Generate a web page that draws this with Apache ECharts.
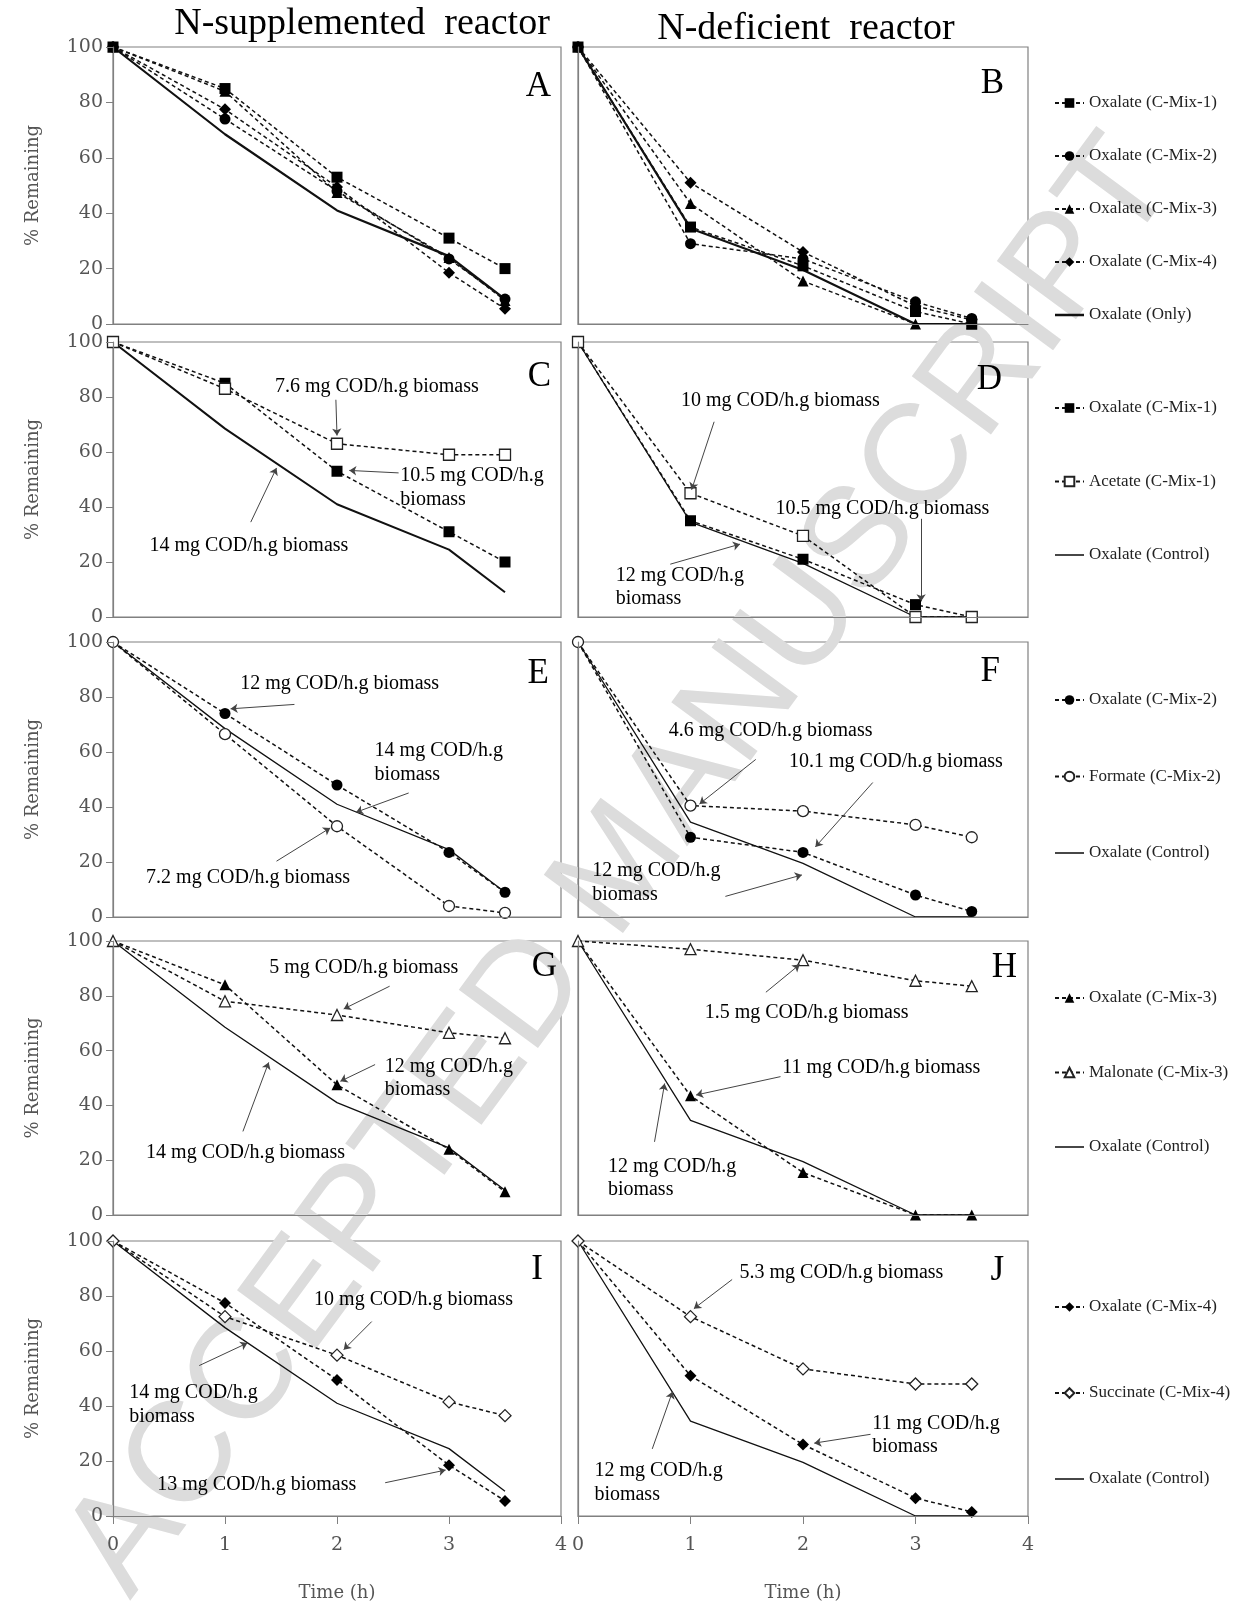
<!DOCTYPE html>
<html>
<head>
<meta charset="utf-8">
<script src="https://cdn.jsdelivr.net/npm/echarts@6.0.0/dist/echarts.min.js"></script>
<style>
html, body { margin: 0; padding: 0; background: #fff; }
#main { width: 1249px; height: 1611px; }
</style>
</head>
<body>
<div id="main"></div>
<script>
// sampling times (h)
var hours = [0, 1, 2, 3, 3.5];

// oxalate, N-supplemented reactor
var supMix1 = [100, 85, 53, 31, 20];
var supMix2 = [100, 74, 48, 23.5, 9];
var supMix3 = [100, 84, 47.5, 24, 8.5];
var supMix4 = [100, 77.5, 49.5, 18.5, 5.5];
var supCtrl = [100, 68.5, 41, 24.5, 9];

// oxalate, N-deficient reactor
var defMix1 = [100, 35, 21, 4.5, 0];
var defMix2 = [100, 29, 23.5, 8, 2];
var defMix3 = [100, 43.5, 15.5, 0, 0];
var defMix4 = [100, 51, 26, 6.5, 1.5];
var defCtrl = [100, 34.5, 19.5, 0, 0];

// co-substrates
var acetateSup = [100, 83, 63, 59, 59];
var acetateDef = [100, 45, 29.5, 0, 0];
var formateSup = [100, 66.5, 33, 4, 1.5];
var formateDef = [100, 40.5, 38.5, 33.5, 29];
var malonateSup = [100, 78, 73, 66.5, 64.5];
var malonateDef = [100, 97, 93, 85.5, 83.5];
var succinateSup = [100, 72.5, 58.5, 41.5, 36.5];
var succinateDef = [100, 72.5, 53.5, 48, 48];

var yTicks = [0, 20, 40, 60, 80, 100];
var xTicks = [0, 1, 2, 3, 4];

// annotations (text anchor and arrow, in axis units)
var notesC = [
    {text: '7.6 mg COD/h.g biomass', at: [1.45, 83.5], from: [1.99, 79], to: [2.0, 66]},
    {text: '10.5 mg COD/h.g\nbiomass', at: [2.57, 46.8], from: [2.55, 52.4], to: [2.11, 53.3]},
    {text: '14 mg COD/h.g biomass', at: [0.33, 25.7], from: [1.23, 34.5], to: [1.46, 54.2]}
];
var notesD = [
    {text: '10 mg COD/h.g biomass', at: [0.92, 78.4], from: [1.21, 71], to: [1.01, 46.3]},
    {text: '10.5 mg COD/h.g biomass', at: [1.76, 39.3], from: [3.05, 35.7], to: [3.05, 5.7]},
    {text: '12 mg COD/h.g\nbiomass', at: [0.34, 10.7], from: [0.82, 19.2], to: [1.44, 26.5]}
];
var notesE = [
    {text: '12 mg COD/h.g biomass', at: [1.14, 84.6], from: [1.62, 77.3], to: [1.05, 75.7]},
    {text: '14 mg COD/h.g\nbiomass', at: [2.34, 56], from: [2.64, 45.1], to: [2.17, 38.1]},
    {text: '7.2 mg COD/h.g biomass', at: [0.3, 14.2], from: [1.46, 20.3], to: [1.94, 32.4]}
];
var notesF = [
    {text: '4.6 mg COD/h.g biomass', at: [0.81, 67.5], from: [1.58, 57.3], to: [1.08, 41.1]},
    {text: '10.1 mg COD/h.g biomass', at: [1.88, 56.1], from: [2.62, 48.9], to: [2.11, 25.5]},
    {text: '12 mg COD/h.g\nbiomass', at: [0.13, 12.2], from: [1.31, 7.5], to: [1.99, 15.3]}
];
var notesG = [
    {text: '5 mg COD/h.g biomass', at: [1.40, 90.2], from: [2.47, 83.5], to: [2.06, 75.2]},
    {text: '12 mg COD/h.g\nbiomass', at: [2.43, 49.7], from: [2.34, 54.9], to: [2.03, 48.8]},
    {text: '14 mg COD/h.g biomass', at: [0.3, 22.6], from: [1.16, 30.5], to: [1.39, 55.7]}
];
var notesH = [
    {text: '1.5 mg COD/h.g biomass', at: [1.13, 73.7], from: [1.67, 81.3], to: [1.97, 91.4]},
    {text: '11 mg COD/h.g biomass', at: [1.82, 53.5], from: [1.80, 50.5], to: [1.05, 43.8]},
    {text: '12 mg COD/h.g\nbiomass', at: [0.27, 13.2], from: [0.68, 26.7], to: [0.77, 48]}
];
var notesI = [
    {text: '10 mg COD/h.g biomass', at: [1.8, 78.4], from: [2.31, 70.7], to: [2.06, 60.5]},
    {text: '14 mg COD/h.g\nbiomass', at: [0.15, 40.2], from: [0.77, 54.7], to: [1.2, 62.9]},
    {text: '13 mg COD/h.g biomass', at: [0.4, 11.1], from: [2.43, 12.1], to: [2.97, 16.7]}
];
var notesJ = [
    {text: '5.3 mg COD/h.g biomass', at: [1.44, 88.3], from: [1.37, 86], to: [1.03, 75.4]},
    {text: '11 mg COD/h.g\nbiomass', at: [2.62, 29.1], from: [2.6, 29.7], to: [2.1, 26.5]},
    {text: '12 mg COD/h.g\nbiomass', at: [0.15, 11.9], from: [0.66, 24.4], to: [0.84, 45.2]}
];

// layout
var cols = [{left: 113, width: 448}, {left: 578, width: 450}];
var rows = [
    {top: 47, height: 277}, {top: 342, height: 275}, {top: 642, height: 275},
    {top: 941, height: 274}, {top: 1241, height: 275}
];

var chart = echarts.init(document.getElementById('main'));

function pts(vals) {
    return hours.map(function (h, i) { return [h, vals[i]]; });
}

function dashed(name, vals, g, symbol, size, filled) {
    return {
        name: name, type: 'line', xAxisIndex: g, yAxisIndex: g,
        data: pts(vals), symbol: symbol, symbolSize: size, clip: false,
        lineStyle: {color: '#111', width: 1.5, type: [4, 3]},
        itemStyle: filled
            ? {color: '#000', borderColor: '#000', borderWidth: 0}
            : {color: '#fff', borderColor: '#222', borderWidth: 1.3},
        z: 3
    };
}

function control(name, vals, g, width, notes) {
    var s = {
        name: name, type: 'line', xAxisIndex: g, yAxisIndex: g,
        data: pts(vals), symbol: 'none', clip: false,
        lineStyle: {color: '#111', width: width, type: 'solid'},
        itemStyle: {color: '#111'},
        z: 2
    };
    if (notes) {
        s.markLine = {
            silent: true, symbol: ['none', 'arrow'], symbolSize: 7,
            label: {show: false},
            lineStyle: {color: '#444', width: 1, type: 'solid'},
            data: notes.map(function (n) { return [{coord: n.from}, {coord: n.to}]; })
        };
        s.markPoint = {
            silent: true, symbol: 'circle', symbolSize: 1,
            itemStyle: {color: 'rgba(0,0,0,0)'},
            data: notes.map(function (n) {
                return {
                    coord: n.at,
                    label: {
                        show: true, formatter: n.text, position: [0, 0],
                        align: 'left', verticalAlign: 'middle',
                        fontFamily: 'Liberation Serif', fontSize: 20,
                        lineHeight: 23.5, color: '#000'
                    }
                };
            })
        };
    }
    return s;
}

var axisFont = {fontFamily: 'DejaVu Serif', fontSize: 19, color: '#555'};

var grids = [], xAxes = [], yAxes = [];
rows.forEach(function (r, ri) {
    cols.forEach(function (c, ci) {
        var g = grids.length;
        var bottom = ri === rows.length - 1;
        grids.push({
            left: c.left, top: r.top, width: c.width, height: r.height,
            show: true, borderColor: '#808080', borderWidth: 1.2,
            containLabel: false, outerBoundsMode: 'none'
        });
        xAxes.push({
            type: 'value', gridIndex: g, z: 4, min: xTicks[0], max: xTicks[xTicks.length - 1], interval: 1,
            name: bottom ? 'Time (h)' : '', nameLocation: 'middle', nameGap: 68,
            nameTextStyle: {fontFamily: 'DejaVu Serif', fontSize: 18, color: '#555'},
            axisLine: {show: true, onZero: false, lineStyle: {color: '#808080', width: 1.2}},
            axisTick: {show: bottom, length: 8, lineStyle: {color: '#808080'}},
            axisLabel: Object.assign({show: bottom, margin: 20}, axisFont),
            splitLine: {show: false}
        });
        yAxes.push({
            type: 'value', gridIndex: g, z: 4, min: yTicks[0], max: yTicks[yTicks.length - 1], interval: 20,
            name: ci === 0 ? '% Remaining' : '', nameLocation: 'middle', nameGap: 71,
            nameTextStyle: {fontFamily: 'DejaVu Serif', fontSize: 18, color: '#555'},
            axisLine: {show: true, onZero: false, lineStyle: {color: '#808080', width: 1.2}},
            axisTick: {show: ci === 0, length: 7, lineStyle: {color: '#808080'}},
            axisLabel: Object.assign({show: ci === 0, margin: 10}, axisFont),
            splitLine: {show: false}
        });
    });
});

var series = [
    // A
    dashed('Oxalate (C-Mix-1)', supMix1, 0, 'rect', 11, true),
    dashed('Oxalate (C-Mix-2)', supMix2, 0, 'circle', 11, true),
    dashed('Oxalate (C-Mix-3)', supMix3, 0, 'triangle', 11, true),
    dashed('Oxalate (C-Mix-4)', supMix4, 0, 'diamond', 12, true),
    control('Oxalate (Only)', supCtrl, 0, 2.2),
    // B
    dashed('Oxalate (C-Mix-1)', defMix1, 1, 'rect', 11, true),
    dashed('Oxalate (C-Mix-2)', defMix2, 1, 'circle', 11, true),
    dashed('Oxalate (C-Mix-3)', defMix3, 1, 'triangle', 11, true),
    dashed('Oxalate (C-Mix-4)', defMix4, 1, 'diamond', 12, true),
    control('Oxalate (Only)', defCtrl, 1, 2.2),
    // C, D
    dashed('Oxalate (C-Mix-1)', supMix1, 2, 'rect', 11, true),
    dashed('Acetate (C-Mix-1)', acetateSup, 2, 'rect', 11, false),
    control('Oxalate (Control)', supCtrl, 2, 2, notesC),
    dashed('Oxalate (C-Mix-1)', defMix1, 3, 'rect', 11, true),
    dashed('Acetate (C-Mix-1)', acetateDef, 3, 'rect', 11, false),
    control('Oxalate (Control)', defCtrl, 3, 1.3, notesD),
    // E, F
    dashed('Oxalate (C-Mix-2)', supMix2, 4, 'circle', 11, true),
    dashed('Formate (C-Mix-2)', formateSup, 4, 'circle', 11, false),
    control('Oxalate (Control)', supCtrl, 4, 1.3, notesE),
    dashed('Oxalate (C-Mix-2)', defMix2, 5, 'circle', 11, true),
    dashed('Formate (C-Mix-2)', formateDef, 5, 'circle', 11, false),
    control('Oxalate (Control)', defCtrl, 5, 1.3, notesF),
    // G, H
    dashed('Oxalate (C-Mix-3)', supMix3, 6, 'triangle', 11, true),
    dashed('Malonate (C-Mix-3)', malonateSup, 6, 'triangle', 11, false),
    control('Oxalate (Control)', supCtrl, 6, 1.3, notesG),
    dashed('Oxalate (C-Mix-3)', defMix3, 7, 'triangle', 11, true),
    dashed('Malonate (C-Mix-3)', malonateDef, 7, 'triangle', 11, false),
    control('Oxalate (Control)', defCtrl, 7, 1.3, notesH),
    // I, J
    dashed('Oxalate (C-Mix-4)', supMix4, 8, 'diamond', 12, true),
    dashed('Succinate (C-Mix-4)', succinateSup, 8, 'diamond', 12, false),
    control('Oxalate (Control)', supCtrl, 8, 1.3, notesI),
    dashed('Oxalate (C-Mix-4)', defMix4, 9, 'diamond', 12, true),
    dashed('Succinate (C-Mix-4)', succinateDef, 9, 'diamond', 12, false),
    control('Oxalate (Control)', defCtrl, 9, 1.3, notesJ)
];

var thickLine = 'path://M0,0H30V2.6H0Z';
var thinLine = 'path://M0,0H30V1.6H0Z';
function legendBox(top, gap, names, ctrlName, icon) {
    var data = names.map(function (n) { return {name: n}; });
    data.push({name: ctrlName, icon: icon});
    return {
        orient: 'vertical', left: 1054, top: top, itemGap: gap, padding: 0, z: 4,
        itemWidth: 29, itemHeight: 12, selectedMode: false,
        textStyle: {fontFamily: 'Liberation Serif', fontSize: 17, color: '#222', lineHeight: 18},
        data: data
    };
}

var legends = [
    legendBox(94, 35, ['Oxalate (C-Mix-1)', 'Oxalate (C-Mix-2)', 'Oxalate (C-Mix-3)', 'Oxalate (C-Mix-4)'], 'Oxalate (Only)', thickLine),
    legendBox(399, 55.5, ['Oxalate (C-Mix-1)', 'Acetate (C-Mix-1)'], 'Oxalate (Control)', thinLine),
    legendBox(691, 58.5, ['Oxalate (C-Mix-2)', 'Formate (C-Mix-2)'], 'Oxalate (Control)', thinLine),
    legendBox(989, 56.5, ['Oxalate (C-Mix-3)', 'Malonate (C-Mix-3)'], 'Oxalate (Control)', thinLine),
    legendBox(1298, 68, ['Oxalate (C-Mix-4)', 'Succinate (C-Mix-4)'], 'Oxalate (Control)', thinLine)
];

var letters = [
    ['A', 551, 87], ['B', 1004, 84], ['C', 551, 377], ['D', 1002, 380], ['E', 549, 674],
    ['F', 1000, 672], ['G', 557, 967], ['H', 1017, 968], ['I', 543, 1270], ['J', 1004, 1271]
];

// watermark sits at the bottom of the stack, everything else above it
var graphics = [
    {type: 'text', x: 622, y: 868, rotation: 0.935, z: 0, z2: 0, silent: true,
     style: {text: 'ACCEPTED MANUSCRIPT', fontFamily: 'Liberation Sans', fontSize: 143,
             fill: '#dcdcdc', align: 'center', verticalAlign: 'middle'}},
    {type: 'text', x: 362, y: 24, z: 5, silent: true,
     style: {text: 'N-supplemented  reactor', fontFamily: 'Liberation Serif', fontSize: 38, fill: '#000', align: 'center', verticalAlign: 'middle'}},
    {type: 'text', x: 806, y: 29, z: 5, silent: true,
     style: {text: 'N-deficient  reactor', fontFamily: 'Liberation Serif', fontSize: 38, fill: '#000', align: 'center', verticalAlign: 'middle'}}
];
letters.forEach(function (l) {
    graphics.push({type: 'text', x: l[1], y: l[2], z: 5, silent: true,
        style: {text: l[0], fontFamily: 'Liberation Serif', fontSize: 35, fill: '#000', align: 'right', verticalAlign: 'middle'}});
});

chart.setOption({
    animation: false,
    backgroundColor: '#fff',
    grid: grids,
    xAxis: xAxes,
    yAxis: yAxes,
    legend: legends,
    series: series,
    graphic: graphics
});
</script>
</body>
</html>
